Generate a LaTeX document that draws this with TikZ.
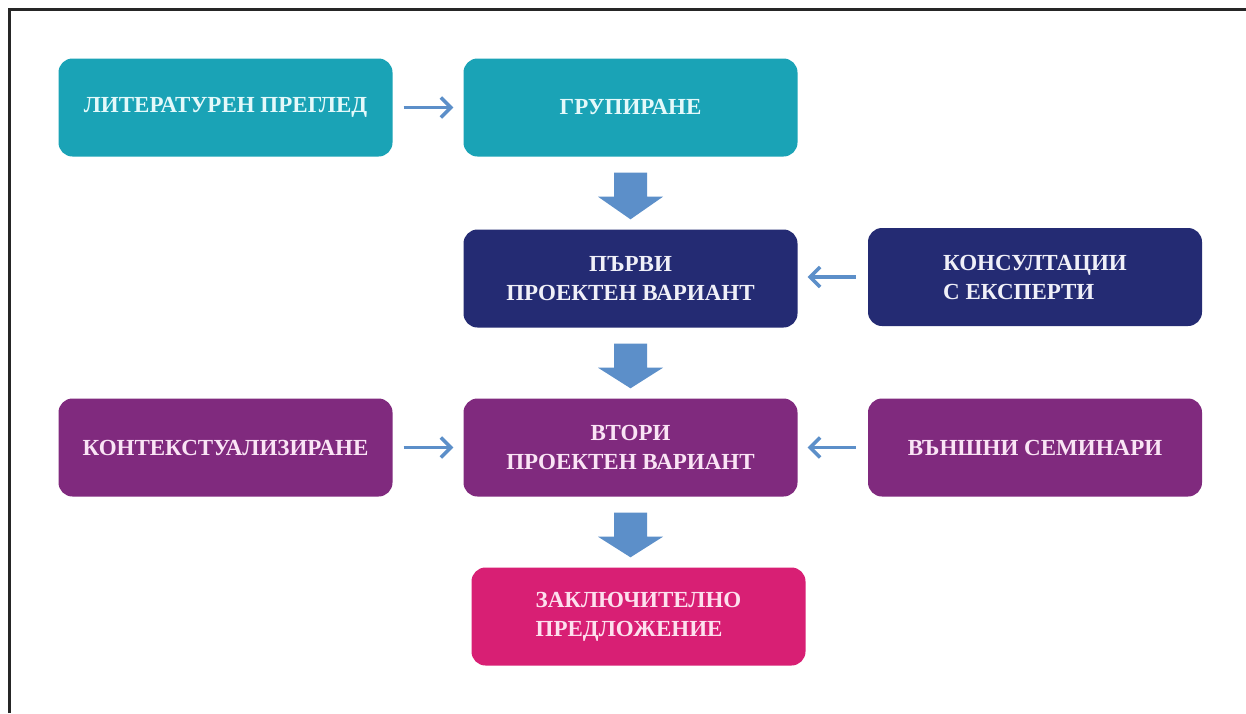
\documentclass[tikz,border=0pt]{standalone}
\usepackage{fontspec}
\setmainfont{Liberation Serif}
\usetikzlibrary{arrows.meta,calc}
\definecolor{cteal}{RGB}{26,163,182}
\definecolor{cnavy}{RGB}{36,43,115}
\definecolor{cpurple}{RGB}{128,42,126}
\definecolor{cpink}{RGB}{216,31,116}
\definecolor{carrow}{RGB}{92,143,201}
\definecolor{tteal}{RGB}{228,249,250}
\definecolor{tnavy}{RGB}{240,240,248}
\definecolor{tpurple}{RGB}{250,228,245}
\definecolor{tpink}{RGB}{253,224,238}
\newcommand{\blockarr}[2]{%
  \fill[carrow] ($(#1.south)+(-16.5,16)$) -- ($(#1.south)+(16.5,16)$)
    -- ($(#1.south)+(16.5,40)$) -- ($(#1.south)+(32.5,40)$)
    -- ($(#1.south |- #2.north)+(0,-10)$)
    -- ($(#1.south)+(-32.5,40)$) -- ($(#1.south)+(-16.5,40)$) -- cycle;}
\begin{document}
\begin{tikzpicture}[x=1pt,y=-1pt,
  box/.style={rounded corners=14pt, minimum width=334pt, minimum height=98pt,
    inner sep=0pt, align=center, font=\fontsize{23}{29}\selectfont\bfseries},
  tealbox/.style={box, fill=cteal, text=tteal},
  navybox/.style={box, fill=cnavy, text=tnavy},
  purplebox/.style={box, fill=cpurple, text=tpurple},
  pinkbox/.style={box, fill=cpink, text=tpink},
  thin arrow/.style={draw=carrow, line width=3.5pt,
    -{Straight Barb[length=10pt,width=20pt,line width=3.5pt]}}
]
\useasboundingbox (0,0) rectangle (1246,713);
\fill[white] (0,0) rectangle (1246,713);
\draw[line width=3pt, black!85] (9,713) -- (9,9.5) -- (1246,9.5);

\node[tealbox] (lit) at (225.5,107.5) {ЛИТЕРАТУРЕН ПРЕГЛЕД};
\node[tealbox] (grp) at (630.5,107.5) {ГРУПИРАНЕ};
\node[navybox] (parvi) at (630.5,278.5) {ПЪРВИ\\ПРОЕКТЕН ВАРИАНТ};
\node[navybox, align=left] (kons) at (1035,277) {КОНСУЛТАЦИИ\\С ЕКСПЕРТИ};
\node[purplebox] (kont) at (225.5,447.5) {КОНТЕКСТУАЛИЗИРАНЕ};
\node[purplebox] (vtori) at (630.5,447.5) {ВТОРИ\\ПРОЕКТЕН ВАРИАНТ};
\node[purplebox] (vansh) at (1035,447.5) {ВЪНШНИ СЕМИНАРИ};
\node[pinkbox, align=left] (zakl) at (638.5,616.5) {ЗАКЛЮЧИТЕЛНО\\ПРЕДЛОЖЕНИЕ};

\draw[thin arrow, shorten <=11pt, shorten >=10pt] (lit.east) -- (grp.west);
\draw[thin arrow, shorten <=12pt, shorten >=10pt] (kons.west) -- (kons.west -| parvi.east);
\draw[thin arrow, shorten <=11pt, shorten >=10pt] (kont.east) -- (vtori.west);
\draw[thin arrow, shorten <=12pt, shorten >=10pt] (vansh.west) -- (vtori.east);

\blockarr{grp}{parvi}
\blockarr{parvi}{vtori}
\blockarr{vtori}{zakl}
\end{tikzpicture}
\end{document}
